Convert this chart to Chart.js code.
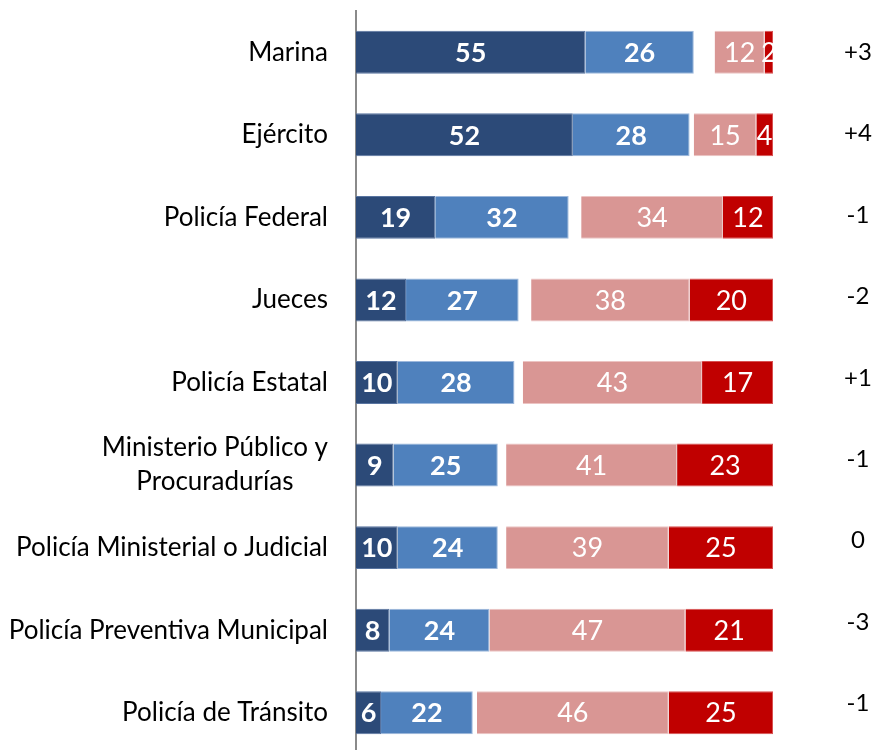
<!DOCTYPE html>
<html>
<head>
<meta charset="utf-8">
<script src="https://cdn.jsdelivr.net/npm/chart.js@4/dist/chart.umd.min.js"></script>
<style>
  html, body { margin: 0; padding: 0; background: #fff; overflow: hidden; }
  #wrap { width: 875px; height: 754px; position: relative; }
</style>
</head>
<body>
<div id="wrap"><canvas id="chart"></canvas></div>
<script>
(function () {
    'use strict';

    /* ── Data ── */
    const categories = [
        'Marina',
        'Ejército',
        'Policía Federal',
        'Jueces',
        'Policía Estatal',
        ['Ministerio Público y', 'Procuradurías'],
        'Policía Ministerial o Judicial',
        'Policía Preventiva Municipal',
        'Policía de Tránsito',
    ];
    const muchaConfianza = [55, 52, 19, 12, 10, 9, 10, 8, 6];
    const algoConfianza = [26, 28, 32, 27, 28, 25, 24, 24, 22];
    const pocaConfianza = [12, 15, 34, 38, 43, 41, 39, 47, 46];
    const nadaConfianza = [2, 4, 12, 20, 17, 23, 25, 21, 25];
    const cambio = ['+3', '+4', '-1', '-2', '+1', '-1', '0', '-3', '-1'];

    // spacer between the positive and negative blocks (rest up to 100)
    const hueco = categories.map((_, i) =>
        100 - muchaConfianza[i] - algoConfianza[i] - pocaConfianza[i] - nadaConfianza[i]);

    const FONT = 'Lato, "Open Sans", sans-serif';

    /* ── Labels: categories, values in bars, change column ── */
    const labelsPlugin = {
        id: 'labels',
        afterDatasetsDraw(chart) {
            const { ctx, chartArea } = chart;
            const yScale = chart.scales.y;
            ctx.save();

            // values inside the bars
            chart.data.datasets.forEach((ds, di) => {
                if (ds.hidden || ds.spacer) return;
                const meta = chart.getDatasetMeta(di);
                ctx.font = (ds.bold ? 'bold ' : '') + '27px ' + FONT;
                ctx.fillStyle = '#ffffff';
                ctx.textAlign = 'center';
                ctx.textBaseline = 'middle';
                meta.data.forEach((bar, j) => {
                    const p = bar.getCenterPoint();
                    ctx.fillText(String(ds.data[j]), p.x, p.y + 1);
                });
            });

            // category labels
            ctx.fillStyle = '#000000';
            ctx.font = '26px ' + FONT;
            ctx.textBaseline = 'middle';
            categories.forEach((lab, i) => {
                const y = yScale.getPixelForValue(i);
                const x = chartArea.left - 28;
                if (Array.isArray(lab)) {
                    const widths = lab.map((l) => ctx.measureText(l).width);
                    const w = Math.max(...widths);
                    const cx = x - w / 2;
                    ctx.textAlign = 'center';
                    lab.forEach((l, k) => {
                        ctx.fillText(l, cx, y + (k - (lab.length - 1) / 2) * 34);
                    });
                } else {
                    ctx.textAlign = 'right';
                    ctx.fillText(lab, x, y);
                }
            });

            // change column on the right
            ctx.font = '24px ' + FONT;
            ctx.textAlign = 'center';
            const y0 = yScale.getPixelForValue(0);
            cambio.forEach((c, i) => {
                const y = yScale.getPixelForValue(i);
                ctx.fillText(c, 858, y0 + (y - y0) * 0.986);
            });
            ctx.restore();
        },
    };

    function initChart() {
        const ctx = document.getElementById('chart');

        new Chart(ctx, {
            type: 'bar',
            data: {
                labels: categories,
                datasets: [
                    {
                        label: 'Mucha',
                        data: muchaConfianza,
                        backgroundColor: '#2C4A78',
                        borderColor: '#5874a0',
                        borderWidth: 1,
                        bold: true,
                    },
                    {
                        label: 'Algo',
                        data: algoConfianza,
                        backgroundColor: '#4F81BD',
                        borderColor: '#9db8dc',
                        borderWidth: 1,
                        bold: true,
                    },
                    {
                        label: '',
                        data: hueco,
                        backgroundColor: 'rgba(0,0,0,0)',
                        borderWidth: 0,
                        spacer: true,
                    },
                    {
                        label: 'Poca',
                        data: pocaConfianza,
                        backgroundColor: '#D99694',
                        borderColor: '#ecc4c3',
                        borderWidth: 1,
                    },
                    {
                        label: 'Nada',
                        data: nadaConfianza,
                        backgroundColor: '#C00000',
                        borderColor: '#d85050',
                        borderWidth: 1,
                    },
                ],
            },
            options: {
                indexAxis: 'y',
                responsive: true,
                maintainAspectRatio: false,
                animation: false,
                layout: { padding: { top: 11, bottom: 0, left: 0, right: 102 } },
                datasets: {
                    bar: { categoryPercentage: 1, barPercentage: 0.52 },
                },
                scales: {
                    x: {
                        stacked: true,
                        min: 0,
                        max: 100,
                        display: false,
                    },
                    y: {
                        stacked: true,
                        ticks: { display: false },
                        grid: { display: false },
                        border: { display: true, color: '#8a8a8a', width: 2 },
                        afterFit: (scale) => { scale.width = 356; },
                    },
                },
                plugins: {
                    legend: { display: false },
                    tooltip: { enabled: false },
                },
            },
            plugins: [labelsPlugin],
        });
    }

    if (document.readyState === 'loading') {
        document.addEventListener('DOMContentLoaded', initChart);
    } else {
        initChart();
    }
})();
</script>
</body>
</html>
